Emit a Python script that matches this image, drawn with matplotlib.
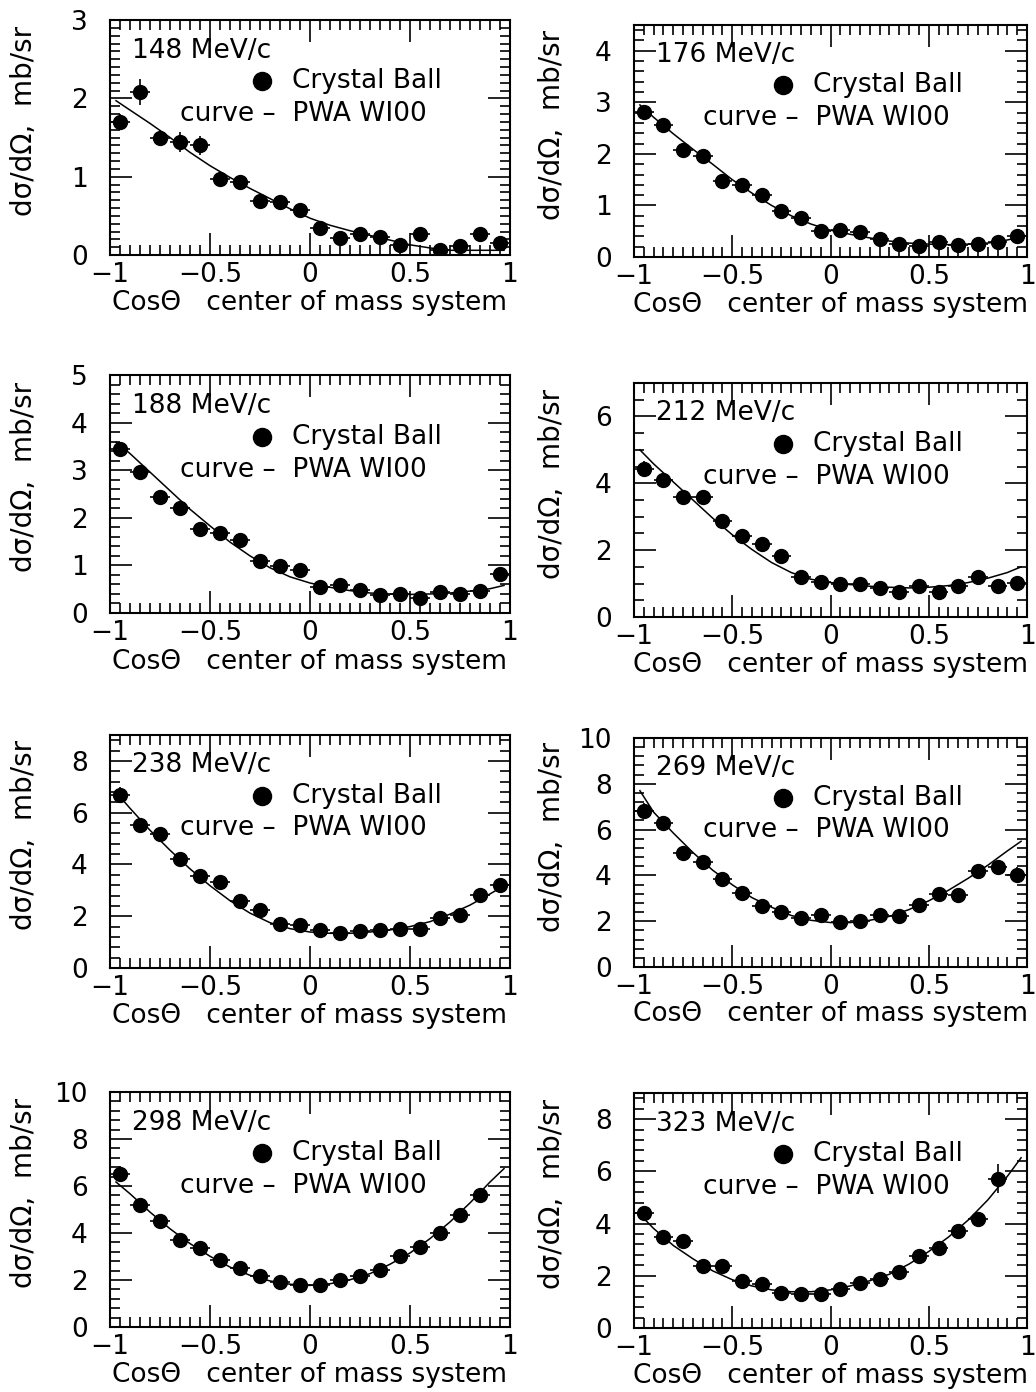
import numpy as np
import matplotlib
matplotlib.use("Agg")
import matplotlib.pyplot as plt
from matplotlib.ticker import MultipleLocator

plt.rcParams['font.family'] = ['DejaVu Sans']

# Bin centres in cos(theta), c.m. system
cos_bins = [-0.95, -0.85, -0.75, -0.65, -0.55, -0.45, -0.35, -0.25, -0.15, -0.05,
            0.05, 0.15, 0.25, 0.35, 0.45, 0.55, 0.65, 0.75, 0.85, 0.95]
# Abscissae of the tabulated PWA (WI00) curves
cos_curve = [-0.97, -0.9, -0.8, -0.7, -0.6, -0.5, -0.4, -0.3, -0.2, -0.1, 0.0,
             0.1, 0.2, 0.3, 0.4, 0.5, 0.6, 0.7, 0.8, 0.9, 0.97]

momenta = ["148", "176", "188", "212", "238", "269", "298", "323"]

# Crystal Ball dsigma/dOmega (mb/sr)
xs_148 = [1.70, 2.08, 1.49, 1.44, 1.40, 0.97, 0.93, 0.69, 0.68, 0.58,
          0.35, 0.22, 0.27, 0.23, 0.13, 0.27, 0.06, 0.12, 0.27, 0.15]
xs_176 = [2.82, 2.57, 2.08, 1.96, 1.47, 1.39, 1.20, 0.90, 0.75, 0.51,
          0.52, 0.48, 0.35, 0.25, 0.22, 0.29, 0.23, 0.26, 0.29, 0.41]
xs_188 = [3.45, 2.96, 2.44, 2.20, 1.77, 1.69, 1.53, 1.09, 0.99, 0.90,
          0.55, 0.58, 0.49, 0.37, 0.39, 0.32, 0.44, 0.39, 0.47, 0.81]
xs_212 = [4.43, 4.11, 3.60, 3.60, 2.86, 2.41, 2.19, 1.82, 1.20, 1.06,
          1.00, 1.00, 0.86, 0.74, 0.92, 0.76, 0.94, 1.20, 0.94, 1.03]
xs_238 = [6.69, 5.52, 5.17, 4.22, 3.55, 3.31, 2.60, 2.25, 1.69, 1.66,
          1.45, 1.36, 1.43, 1.47, 1.49, 1.49, 1.92, 2.04, 2.82, 3.22]
xs_269 = [6.83, 6.30, 5.00, 4.58, 3.85, 3.24, 2.68, 2.39, 2.14, 2.28,
          1.97, 2.00, 2.25, 2.23, 2.72, 3.20, 3.13, 4.18, 4.37, 4.01]
xs_298 = [6.50, 5.18, 4.51, 3.72, 3.38, 2.84, 2.52, 2.16, 1.91, 1.77,
          1.80, 1.99, 2.17, 2.41, 3.01, 3.40, 4.00, 4.75, 5.60, np.nan]
xs_323 = [4.39, 3.48, 3.35, 2.39, 2.36, 1.81, 1.68, 1.35, 1.29, 1.29,
          1.48, 1.74, 1.87, 2.13, 2.77, 3.07, 3.72, 4.17, 5.72, np.nan]

# Statistical errors (mb/sr)
err_148 = [0.10, 0.17, 0.10, 0.13, 0.12, 0.08, 0.08, 0.07, 0.07, 0.07,
           0.06, 0.06, 0.06, 0.06, 0.06, 0.07, 0.05, 0.06, 0.07, 0.06]
err_176 = [0.12, 0.10, 0.09, 0.09, 0.08, 0.08, 0.07, 0.07, 0.06, 0.06,
           0.06, 0.06, 0.05, 0.05, 0.05, 0.05, 0.05, 0.05, 0.06, 0.07]
err_188 = [0.14, 0.12, 0.10, 0.10, 0.09, 0.09, 0.08, 0.07, 0.07, 0.07,
           0.06, 0.06, 0.06, 0.05, 0.05, 0.05, 0.06, 0.05, 0.06, 0.10]
err_212 = [0.25, 0.20, 0.18, 0.18, 0.15, 0.14, 0.13, 0.12, 0.10, 0.10,
           0.09, 0.09, 0.09, 0.08, 0.09, 0.08, 0.09, 0.10, 0.10, 0.12]
err_238 = [0.30, 0.25, 0.22, 0.20, 0.18, 0.17, 0.15, 0.14, 0.12, 0.12,
           0.11, 0.11, 0.11, 0.11, 0.11, 0.11, 0.13, 0.14, 0.18, 0.25]
err_269 = [0.35, 0.30, 0.25, 0.23, 0.20, 0.18, 0.16, 0.15, 0.14, 0.15,
           0.13, 0.13, 0.14, 0.14, 0.16, 0.18, 0.18, 0.22, 0.25, 0.35]
err_298 = [0.35, 0.28, 0.25, 0.22, 0.20, 0.18, 0.16, 0.15, 0.14, 0.13,
           0.13, 0.14, 0.15, 0.16, 0.18, 0.20, 0.23, 0.26, 0.30, np.nan]
err_323 = [0.30, 0.25, 0.25, 0.20, 0.20, 0.16, 0.15, 0.14, 0.13, 0.13,
           0.14, 0.15, 0.16, 0.17, 0.20, 0.22, 0.25, 0.28, 0.55, np.nan]

# PWA WI00 predictions on cos_curve
pwa_148 = [1.97, 1.85, 1.68, 1.50, 1.31, 1.14, 0.99, 0.85, 0.72, 0.59, 0.47,
           0.38, 0.31, 0.25, 0.19, 0.13, 0.09, 0.06, 0.06, 0.06, 0.06]
pwa_176 = [2.95, 2.71, 2.39, 2.09, 1.80, 1.50, 1.24, 1.00, 0.80, 0.64, 0.52,
           0.44, 0.37, 0.31, 0.27, 0.25, 0.24, 0.25, 0.27, 0.33, 0.39]
pwa_188 = [3.59, 3.35, 2.96, 2.57, 2.18, 1.83, 1.49, 1.20, 0.95, 0.76, 0.63,
           0.54, 0.47, 0.42, 0.40, 0.39, 0.40, 0.42, 0.46, 0.51, 0.58]
pwa_212 = [5.00, 4.58, 4.04, 3.50, 2.96, 2.46, 2.02, 1.63, 1.33, 1.13, 1.03,
           0.97, 0.92, 0.89, 0.87, 0.89, 0.94, 1.03, 1.16, 1.33, 1.50]
pwa_238 = [6.79, 6.17, 5.32, 4.55, 3.83, 3.18, 2.60, 2.12, 1.75, 1.52, 1.39,
           1.34, 1.34, 1.39, 1.47, 1.60, 1.79, 2.08, 2.43, 2.86, 3.18]
pwa_269 = [7.70, 6.76, 5.85, 5.00, 4.23, 3.59, 3.03, 2.61, 2.25, 2.04, 1.94,
           1.94, 2.04, 2.21, 2.51, 2.89, 3.35, 3.87, 4.44, 5.07, 5.49]
pwa_298 = [6.17, 5.67, 4.89, 4.18, 3.55, 3.01, 2.55, 2.20, 1.96, 1.82, 1.77,
           1.84, 2.01, 2.27, 2.67, 3.15, 3.76, 4.47, 5.28, 6.17, 6.74]
pwa_323 = [4.35, 3.81, 3.16, 2.65, 2.19, 1.85, 1.61, 1.46, 1.39, 1.39, 1.46,
           1.61, 1.81, 2.06, 2.45, 2.93, 3.48, 4.13, 4.90, 5.81, 6.52]

data_sets = [xs_148, xs_176, xs_188, xs_212, xs_238, xs_269, xs_298, xs_323]
err_sets = [err_148, err_176, err_188, err_212, err_238, err_269, err_298, err_323]
pwa_sets = [pwa_148, pwa_176, pwa_188, pwa_212, pwa_238, pwa_269, pwa_298, pwa_323]

# y-axis range, major and minor tick step per panel
y_max = [3, 4.5, 5, 7, 9, 10, 10, 9]
y_major = [1, 1, 1, 2, 2, 2, 2, 2]
y_minor = [0.1, 0.2, 0.2, 0.5, 0.4, 0.4, 0.4, 0.4]

W, H = 1036, 1392
fig = plt.figure(figsize=(W / 100, H / 100), dpi=100)

# panel boxes in pixels: (left, top, right, bottom)
boxes = [(110, 20, 510, 255), (634, 25, 1027, 257),
         (110, 375, 510, 613), (634, 383, 1027, 617),
         (110, 735, 510, 968), (634, 738, 1027, 967),
         (110, 1092, 510, 1327), (634, 1093, 1027, 1328)]

FS = 19
for i, (l, t, r, b) in enumerate(boxes):
    ax = fig.add_axes([l / W, 1 - b / H, (r - l) / W, (b - t) / H])
    ax.set_xlim(-1, 1)
    ax.set_ylim(0, y_max[i])

    ax.plot(cos_curve, pwa_sets[i], color='black', lw=1.1, zorder=2)
    ax.errorbar(cos_bins, data_sets[i], yerr=err_sets[i], xerr=0.05,
                fmt='o', color='black', ms=10, elinewidth=1.2, capsize=0, zorder=3)

    ax.xaxis.set_major_locator(MultipleLocator(0.5))
    ax.xaxis.set_minor_locator(MultipleLocator(0.05))
    ax.yaxis.set_major_locator(MultipleLocator(y_major[i]))
    ax.yaxis.set_minor_locator(MultipleLocator(y_minor[i]))
    ax.set_xticks([-1, -0.5, 0, 0.5, 1])
    ax.set_xticklabels(['\u22121', '\u22120.5', '0', '0.5', '1'])
    ax.tick_params(which='both', direction='in', top=True, right=True,
                   labelsize=FS, width=1.2, colors='black')
    ax.tick_params(which='major', length=16)
    ax.tick_params(which='minor', length=7)
    ax.tick_params(axis='x', which='major', pad=5)
    ax.tick_params(axis='y', which='major', pad=16)
    for sp in ax.spines.values():
        sp.set_linewidth(1.5)

    left_col = (i % 2 == 0)
    ax.set_ylabel('d\u03c3/d\u03a9,  mb/sr', fontsize=20)
    ax.yaxis.set_label_coords(-0.18 if left_col else -0.173, 0.57)
    ax.set_xlabel('Cos\u0398   center of mass system', fontsize=FS)
    ax.xaxis.set_label_coords(0.5, -0.15)

    ax.text(0.055, 0.87, momenta[i] + ' MeV/c', transform=ax.transAxes,
            fontsize=FS, va='center', ha='left')
    ax.plot([0.38], [0.74], 'o', color='black', ms=13, transform=ax.transAxes,
            clip_on=False)
    ax.text(0.455, 0.74, 'Crystal Ball', transform=ax.transAxes,
            fontsize=FS, va='center', ha='left')
    ax.text(0.175, 0.60, 'curve \u2013  PWA WI00', transform=ax.transAxes,
            fontsize=FS, va='center', ha='left')

fig.savefig('out.png', dpi=100, facecolor='white')
